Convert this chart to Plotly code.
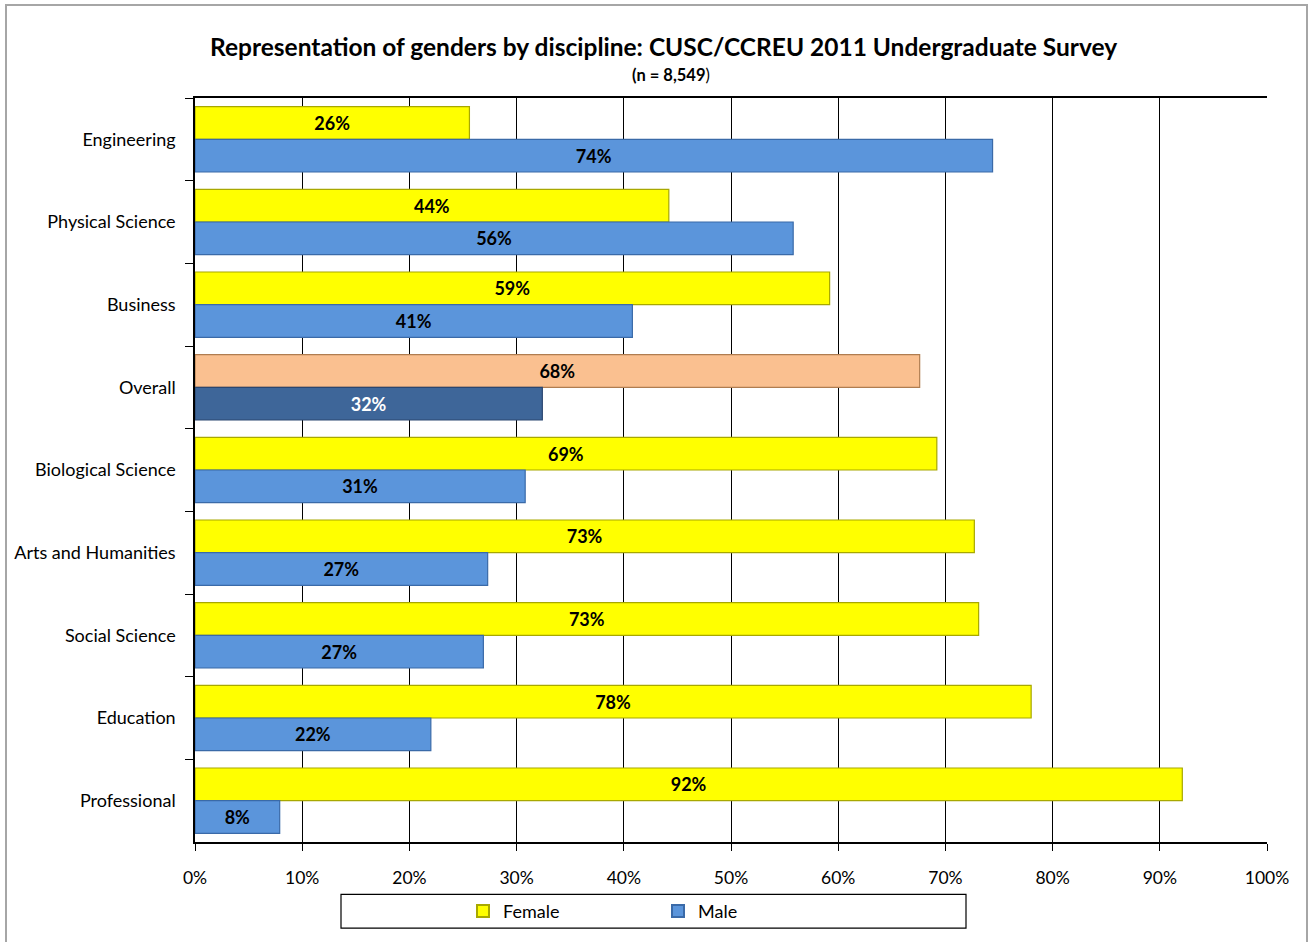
import plotly.graph_objects as go

categories = ["Engineering", "Physical Science", "Business", "Overall", "Biological Science",
              "Arts and Humanities", "Social Science", "Education", "Professional"]
female = [25.6, 44.2, 59.2, 67.6, 69.2, 72.7, 73.1, 78.0, 92.1]
male = [74.4, 55.8, 40.8, 32.4, 30.8, 27.3, 26.9, 22.0, 7.9]
x_ticks = [0, 10, 20, 30, 40, 50, 60, 70, 80, 90, 100]
x_tick_labels = [f"{t}%" for t in x_ticks]

FONT = "Lato, 'Open Sans', sans-serif"
YELLOW = "#FFFF00"
BLUE = "#5B95DB"
PEACH = "#FAC090"
DARKBLUE = "#3E6699"

f_colors = [PEACH if c == "Overall" else YELLOW for c in categories]
f_lines = ["#B07D50" if c == "Overall" else "#A8A800" for c in categories]
m_colors = [DARKBLUE if c == "Overall" else BLUE for c in categories]
m_lines = ["#2A4670" if c == "Overall" else "#3A6AA8" for c in categories]
m_text_colors = ["white" if c == "Overall" else "black" for c in categories]

fig = go.Figure()
fig.add_trace(go.Bar(
    y=categories, x=female, orientation="h", name="Female",
    marker=dict(color=f_colors, line=dict(color=f_lines, width=1.2)),
    text=[f"{round(v)}%" for v in female], textposition="inside",
    insidetextanchor="middle", textangle=0,
    textfont=dict(family=FONT, size=18, color="black", weight="bold"),
))
fig.add_trace(go.Bar(
    y=categories, x=male, orientation="h", name="Male",
    marker=dict(color=m_colors, line=dict(color=m_lines, width=1.2)),
    text=[f"{round(v)}%" for v in male], textposition="inside",
    insidetextanchor="middle", textangle=0,
    textfont=dict(family=FONT, size=18, color=m_text_colors, weight="bold"),
))

fig.update_layout(
    width=1309, height=942,
    margin=dict(l=195, r=42, t=98, b=92),
    paper_bgcolor="white", plot_bgcolor="white",
    barmode="group", bargap=0.21, bargroupgap=0.0,
    font=dict(family=FONT, size=15, color="black"),
    showlegend=True,
    legend=dict(orientation="h", x=0.25, y=-0.093, xanchor="left", yanchor="middle",
                entrywidth=150, entrywidthmode="pixels", traceorder="normal",
                font=dict(family=FONT, size=18, color="black"),
                bgcolor="rgba(0,0,0,0)", itemsizing="constant"),
    xaxis=dict(range=[0, 100], tickvals=x_ticks, ticktext=x_tick_labels,
               showgrid=True, gridcolor="black", gridwidth=1,
               showline=True, linecolor="black", linewidth=1.5, mirror=True,
               ticks="outside", ticklen=7, tickcolor="black",
               tickfont=dict(family=FONT, size=17.5), zeroline=False,
               ticklabelstandoff=12, fixedrange=True),
    yaxis=dict(autorange="reversed", showline=True, linecolor="black", linewidth=1.5,
               ticks="outside", ticklen=8, tickcolor="black", tickson="boundaries",
               showgrid=False, tickfont=dict(family=FONT, size=18),
               ticklabelstandoff=14),
    annotations=[
        dict(text="<b>Representation of genders by discipline: CUSC/CCREU 2011 Undergraduate Survey</b>",
             xref="paper", yref="paper", x=(663 - 195) / 1072, y=(850 - 46) / 752,
             xanchor="center", yanchor="middle", showarrow=False,
             font=dict(family=FONT, size=24.5, color="black")),
        dict(text="<b>(n = 8,549</b>)",
             xref="paper", yref="paper", x=(671 - 195) / 1072, y=(850 - 75) / 752,
             xanchor="center", yanchor="middle", showarrow=False,
             font=dict(family=FONT, size=16.5, color="black")),
    ],
    shapes=[
        dict(type="rect", xref="paper", yref="paper",
             x0=(341 - 195) / 1072, x1=(966 - 195) / 1072,
             y0=(850 - 937) / 752, y1=(850 - 903) / 752,
             line=dict(color="black", width=1.2), fillcolor="rgba(0,0,0,0)"),
        dict(type="rect", xref="paper", yref="paper",
             x0=(6 - 195) / 1072, x1=(1307 - 195) / 1072,
             y0=(850 - 960) / 752, y1=(850 - 4) / 752,
             line=dict(color="#A6A6A6", width=2), fillcolor="rgba(0,0,0,0)"),
    ],
)

fig.write_html("out.html")
